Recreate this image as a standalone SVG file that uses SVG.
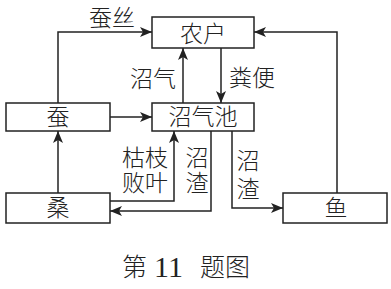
<svg xmlns="http://www.w3.org/2000/svg" width="391" height="289" viewBox="0 0 391 289">
<style>
.box{fill:#fff;stroke:#222;stroke-width:1.5}
.ln{fill:none;stroke:#222;stroke-width:1.5;marker-end:url(#ah)}
text{font-family:"Noto Sans CJK SC","Liberation Serif",serif;fill:#222;font-size:23px;text-anchor:middle;font-weight:300}
.cap{font-size:25px;text-anchor:start}
.num{font-family:"Liberation Serif",serif;font-size:30px;font-weight:normal}
</style>
<defs>
<marker id="ah" viewBox="0 0 12 10" refX="12" refY="5" markerWidth="12" markerHeight="10" markerUnits="userSpaceOnUse" orient="auto">
<path d="M0,0 L12,5 L0,10 L3,5 Z" fill="#222"/>
</marker>
</defs>
<rect width="391" height="289" fill="#fff"/>
<g id="connectors">
<path class="ln" d="M58,103 V32 H152"/>
<path class="ln" d="M337,193 V32 H254"/>
<path class="ln" d="M183,103 V48"/>
<path class="ln" d="M221,48 V103"/>
<path class="ln" d="M110,117 H152"/>
<path class="ln" d="M58,193 V131"/>
<path class="ln" d="M110,201 H174 V131"/>
<path class="ln" d="M211,131 V211 H110"/>
<path class="ln" d="M232,131 V208 H283"/>
<text x="112" y="26">蚕丝</text>
<text x="153" y="87">沼气</text>
<text x="252" y="86">粪便</text>
<text x="145" y="166">枯枝</text>
<text x="145" y="191">败叶</text>
<text x="197" y="166">沼</text>
<text x="197" y="191">渣</text>
<text x="248" y="169">沼</text>
<text x="248" y="197">渣</text>
</g>
<g id="nonghu"><rect class="box" x="152" y="17" width="102" height="31"/><text x="203" y="42">农户</text></g>
<g id="can"><rect class="box" x="6" y="103" width="104" height="28"/><text x="58" y="125">蚕</text></g>
<g id="zhaoqichi"><rect class="box" x="152" y="103" width="102" height="28"/><text x="203" y="125">沼气池</text></g>
<g id="sang"><rect class="box" x="6" y="193" width="104" height="30"/><text x="58" y="216">桑</text></g>
<g id="yu"><rect class="box" x="283" y="193" width="104" height="30"/><text x="336" y="216">鱼</text></g>
<text class="cap" x="122" y="276">第<tspan class="num" x="154" y="277">11</tspan><tspan x="200" y="276">题图</tspan></text>
</svg>
